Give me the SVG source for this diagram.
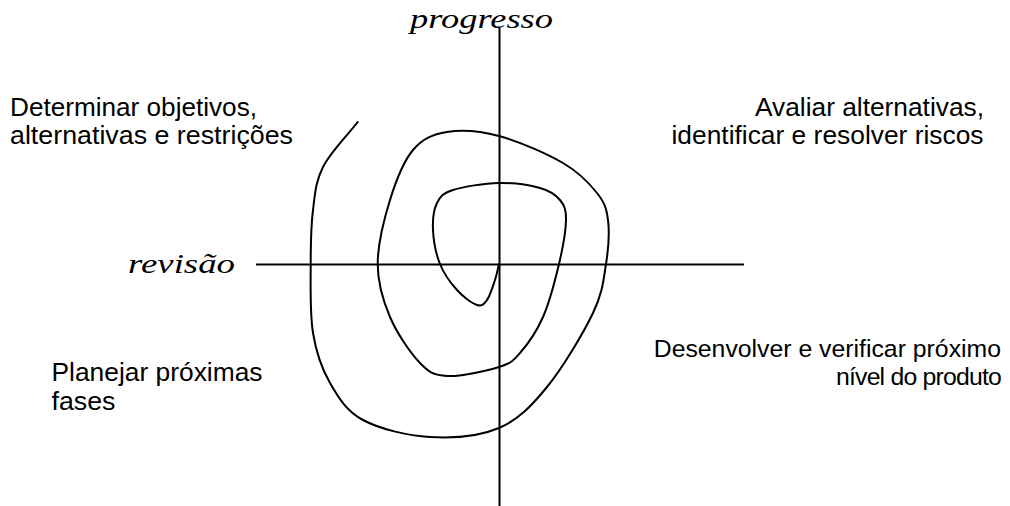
<svg xmlns="http://www.w3.org/2000/svg" width="1010" height="506" viewBox="0 0 1010 506">
<style>
.lbl{font-family:"Liberation Sans",Arial,sans-serif;font-size:25.5px;fill:#000}
.lbr{font-family:"Liberation Sans",Arial,sans-serif;font-size:24.8px;fill:#000}
.axl{font-family:"Liberation Serif","Times New Roman",serif;font-style:italic;font-size:28px;fill:#000}
.ax{stroke:#000;stroke-width:2;fill:none}
.sp{stroke:#000;stroke-width:2;fill:none;stroke-linecap:round;stroke-linejoin:round}
</style>
<rect width="1010" height="506" fill="#fff"/>
<g id="connectors">
<line class="ax" x1="256" y1="264.5" x2="744" y2="264.5"/>
<line class="ax" x1="499.5" y1="28" x2="499.5" y2="506"/>
<path class="sp" d="M357.7,122 C346.1,137 330.45,152.33 323,167 C315.55,181.67 315.05,193.83 313,210 C310.95,226.17 310.7,243.5 310.7,264 C310.7,284.5 309.78,313.17 313,333 C316.22,352.83 321.67,368.5 330,383 C338.33,397.5 346.33,411 363,420 C379.67,429 407.33,435.67 430,437 C452.67,438.33 479.5,436.33 499,428 C518.5,419.67 531.33,406.17 547,387 C562.67,367.83 583.17,333.5 593,313 C602.83,292.5 603.5,279.5 606,264 C608.5,248.5 609.5,231.83 608,220 C606.5,208.17 604.5,202.5 597,193 C589.5,183.5 579.33,172.5 563,163 C546.67,153.5 518.33,141.17 499,136 C479.67,130.83 461.33,129.67 447,132 C432.67,134.33 422.5,138.67 413,150 C403.5,161.33 395.88,181 390,200 C384.12,219 377.7,244.5 377.7,264 C377.7,283.5 382.95,300.5 390,317 C397.05,333.5 410.5,353.17 420,363 C429.5,372.83 433.83,375.33 447,376 C460.17,376.67 486.83,370.83 499,367 C511.17,363.17 512.67,361.33 520,353 C527.33,344.67 536.5,331.83 543,317 C549.5,302.17 555.17,280.17 559,264 C562.83,247.83 565.83,230.67 566,220 C566.17,209.33 564.33,205.33 560,200 C555.67,194.67 550.17,190.83 540,188 C529.83,185.17 513.5,182.67 499,183 C484.5,183.33 463.33,186.67 453,190 C442.67,193.33 440.33,196.33 437,203 C433.67,209.67 432.5,219.83 433,230 C433.5,240.17 436,254 440,264 C444,274 450.83,283.17 457,290 C463.17,296.83 472,303.33 477,305 C482,306.67 484,304.17 487,300 C490,295.83 493,286 495,280 C497,274 497.67,269.33 499,264"/>
</g>
<g id="axis-progresso"><text class="axl" x="410" y="28" textLength="143" lengthAdjust="spacingAndGlyphs">progresso</text></g>
<g id="axis-revisao"><text class="axl" x="128" y="273" textLength="107" lengthAdjust="spacingAndGlyphs">revisão</text></g>
<g id="q-determinar">
<text class="lbl" x="10" y="116" textLength="247" lengthAdjust="spacingAndGlyphs">Determinar objetivos,</text>
<text class="lbl" x="10" y="144" textLength="283" lengthAdjust="spacingAndGlyphs">alternativas e restrições</text>
</g>
<g id="q-avaliar">
<text class="lbl" x="984" y="116" text-anchor="end" textLength="229" lengthAdjust="spacingAndGlyphs">Avaliar alternativas,</text>
<text class="lbl" x="983.5" y="144" text-anchor="end" textLength="312" lengthAdjust="spacingAndGlyphs">identificar e resolver riscos</text>
</g>
<g id="q-planejar">
<text class="lbl" x="51.5" y="381" textLength="211" lengthAdjust="spacingAndGlyphs">Planejar próximas</text>
<text class="lbl" x="51.5" y="410" textLength="64" lengthAdjust="spacingAndGlyphs">fases</text>
</g>
<g id="q-desenvolver">
<text class="lbr" x="1001" y="357" text-anchor="end">Desenvolver e verificar próximo</text>
<text class="lbr" x="1001" y="385" text-anchor="end" letter-spacing="-0.8">nível do produto</text>
</g>
</svg>
